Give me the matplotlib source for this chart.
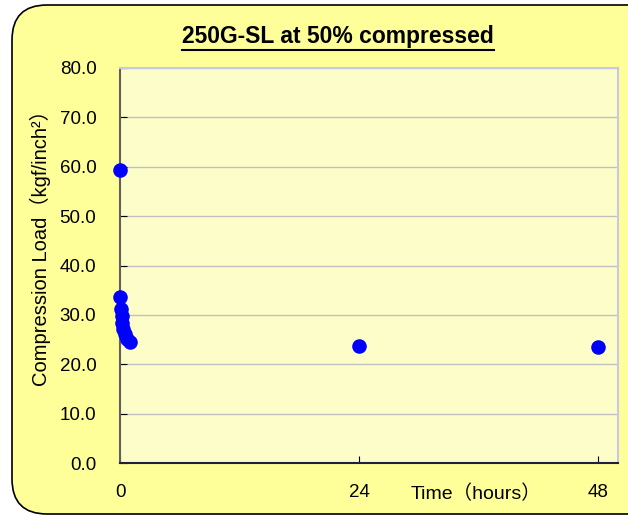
import matplotlib
matplotlib.use("Agg")
import matplotlib.pyplot as plt
from matplotlib.patches import FancyBboxPatch
from matplotlib.lines import Line2D
from matplotlib.transforms import IdentityTransform

plt.rcParams['font.family'] = ['Liberation Sans', 'Noto Sans CJK JP', 'DejaVu Sans']

# Data
hours = [0, 0.02, 0.08, 0.17, 0.25, 0.33, 0.5, 0.75, 1, 24, 48]
load = [59.3, 33.6, 31.2, 29.8, 28.4, 27.2, 26.1, 25.2, 24.6, 23.7, 23.5]
x_ticks = [0, 24, 48]
y_ticks = [0, 10, 20, 30, 40, 50, 60, 70, 80]

fig = plt.figure(figsize=(6.28, 5.15), dpi=100)
fig.patch.set_facecolor('white')

# rounded yellow chart area (cut off at the right)
box = FancyBboxPatch((12, 1), 650, 509, boxstyle="round,pad=0,rounding_size=35",
                     transform=IdentityTransform(), facecolor='#FFFF99', edgecolor='black',
                     linewidth=1.2, zorder=-5)
fig.add_artist(box)

ax = fig.add_axes([120 / 628, 1 - 463 / 515, 498 / 628, 395 / 515])
ax.set_zorder(1)
ax.set_facecolor('#FDFDC9')
ax.scatter(hours, load, s=110, color='#0000FF', zorder=3, clip_on=False, linewidths=0)

ax.set_xlim(0, 50)
ax.set_ylim(0, 80)
ax.set_xticks(x_ticks)
ax.set_yticks(y_ticks)
ax.set_yticklabels([f'{v:.1f}' for v in y_ticks])
ax.tick_params(direction='in', length=5, labelsize=13.5)
ax.tick_params(axis='x', pad=15)
ax.tick_params(axis='y', pad=17)
ax.grid(axis='y', color='#C0C0C0', linewidth=1)
ax.set_axisbelow(True)

for side in ['top', 'right']:
    ax.spines[side].set_color('#C8C8E6')
    ax.spines[side].set_linewidth(1.5)
ax.spines['left'].set_color('#606060')
ax.spines['left'].set_linewidth(1.5)
ax.spines['bottom'].set_color('#202040')
ax.spines['bottom'].set_linewidth(1.5)

ax.set_ylabel('Compression Load（kgf/inch²）', fontsize=14.5, va='center')
ax.yaxis.set_label_coords(-0.159, 0.557)
ax.text(35.7, -6.3, 'Time（hours）', fontsize=14, ha='center', va='center')

title = fig.text(338 / 628, 1 - 37 / 515, '250G-SL at 50% compressed', fontsize=16.5,
                 fontweight='bold', ha='center', va='center')

# underline the title
fig.canvas.draw()
bb = title.get_window_extent().transformed(fig.transFigure.inverted())
fig.add_artist(Line2D([bb.x0, bb.x1], [bb.y0 - 0.003, bb.y0 - 0.003], color='black',
                      linewidth=1.5, transform=fig.transFigure))

fig.savefig('out.png', dpi=100)
